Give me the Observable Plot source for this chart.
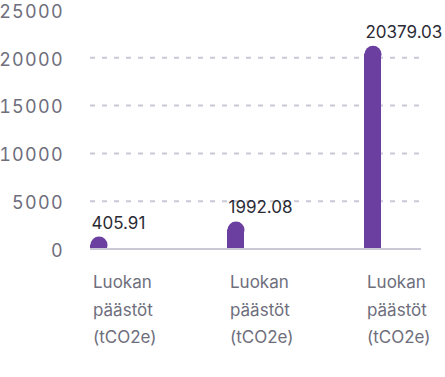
<!DOCTYPE html>
<html>
<head>
<meta charset="utf-8">
<script src="https://cdn.jsdelivr.net/npm/d3@7"></script>
<script src="https://cdn.jsdelivr.net/npm/@observablehq/plot@0.6"></script>
<style>
  html, body { margin: 0; padding: 0; background: #fff; }
  #chart svg { font-family: Inter, "Noto Sans", sans-serif; }
  #chart g[aria-label="y-axis tick label"] text { letter-spacing: 1.3px; }
</style>
</head>
<body>
<div id="chart"></div>
<script>
const ids = ["c1", "c2", "c3"];
const categories = ["Luokan\npäästöt\n(tCO2e)", "Luokan\npäästöt\n(tCO2e)", "Luokan\npäästöt\n(tCO2e)"];
const values = [405.91, 1992.08, 20379.03];
const yTicks = [0, 5000, 10000, 15000, 20000, 25000];

const data = ids.map((id, i) => ({id, label: categories[i], value: values[i]}));

const purple = "#6b3fa0";
const grid = "#c9c9d6";
const axisText = "#6e6e7c";

const plot = Plot.plot({
  width: 445,
  height: 377,
  marginLeft: 90,
  marginRight: 24,
  marginTop: 9.5,
  marginBottom: 128.5,
  style: {fontFamily: "Inter, 'Noto Sans', sans-serif", fontSize: "17px", background: "#fff"},
  x: {type: "band", domain: ids, paddingInner: 0.876, paddingOuter: 0.1417, align: 0, axis: null},
  y: {domain: [0, 25000], ticks: yTicks, axis: null},
  marks: [
    Plot.ruleY(yTicks.filter(d => d > 0 && d < 25000), {stroke: grid, strokeWidth: 2, strokeDasharray: "5,7", strokeOpacity: 1}),
    Plot.axisY({ticks: yTicks, tickFormat: d => String(d), label: null, tickSize: 0, tickPadding: 26.5, dy: 2, fontSize: 18, fill: axisText, color: axisText}),
    Plot.barY(data, {x: "id", y: "value", fill: purple}),
    Plot.dot(data, {x: "id", y: "value", r: 8.5, fill: purple, stroke: null, clip: true}),
    Plot.ruleY([0], {stroke: grid, strokeWidth: 2}),
    Plot.text(data, {x: "id", y: "value", text: d => d.value.toFixed(2), textAnchor: "start", dx: -7.5, dy: -22, fontSize: 17, fill: "#2b2b36"}),
    Plot.text(data, {x: "id", text: "label", frameAnchor: "bottom", textAnchor: "start", lineAnchor: "top", lineHeight: 1.6, dx: -6, dy: 20, fontSize: 17, fill: axisText})
  ]
});
document.getElementById("chart").appendChild(plot);
</script>
</body>
</html>
